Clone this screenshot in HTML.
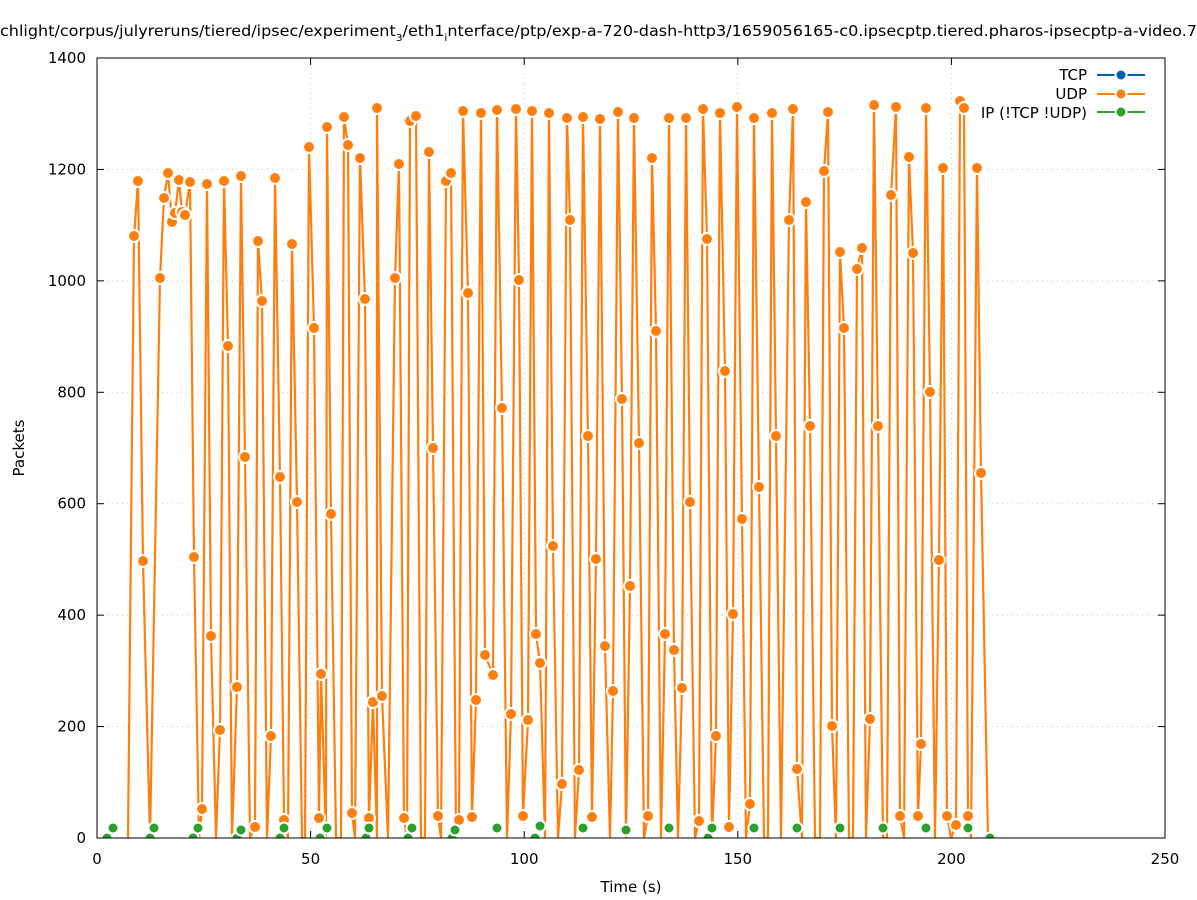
<!DOCTYPE html>
<html><head><meta charset="utf-8"><style>html,body{margin:0;padding:0;background:#fff}svg{display:block}text{font-family:"DejaVu Sans","Liberation Sans",sans-serif}</style></head>
<body>
<svg id="s" width="1197" height="900" viewBox="0 0 1197 900" xmlns="http://www.w3.org/2000/svg">
<defs><clipPath id="cp"><rect x="97" y="58" width="1068" height="780"/></clipPath></defs>
<rect width="1197" height="900" fill="#fff"/>
<g id="grid" stroke="#c8c8c8" stroke-width="1" stroke-dasharray="1,4"></g>
<text x="0" y="36" font-size="15" fill="#000" textLength="1197" lengthAdjust="spacingAndGlyphs">chlight/corpus/julyreruns/tiered/ipsec/experiment<tspan font-size="10" dy="5">3</tspan><tspan dy="-5">/eth1</tspan><tspan font-size="10" dy="5">i</tspan><tspan dy="-5">nterface/ptp/exp-a-720-dash-http3/1659056165-c0.ipsecptp.tiered.pharos-ipsecptp-a-video.7</tspan></text>
<g id="ax" font-size="15" fill="#000"></g>
<g id="data" clip-path="url(#cp)"></g>
<rect x="97" y="58" width="1068" height="780" fill="none" stroke="#000" stroke-width="1"/>
<g font-size="15" text-anchor="end">
<text x="1087" y="80">TCP</text>
<text x="1087" y="99">UDP</text>
<text x="1087" y="118">IP (!TCP  !UDP)</text>
</g>
<line x1="1097" y1="75" x2="1145" y2="75" stroke="#0060ad" stroke-width="2"/>
<line x1="1097" y1="94" x2="1145" y2="94" stroke="#ff7f0e" stroke-width="2"/>
<line x1="1097" y1="112" x2="1145" y2="112" stroke="#2ca02c" stroke-width="2"/>
<circle cx="1121" cy="75" r="5.5" fill="#0060ad" stroke="#fff" stroke-width="2"/>
<circle cx="1121" cy="94" r="5.5" fill="#ff7f0e" stroke="#fff" stroke-width="2"/>
<circle cx="1121" cy="112" r="5.5" fill="#2ca02c" stroke="#fff" stroke-width="2"/>
<text x="631" y="892" font-size="15" text-anchor="middle">Time (s)</text>
<text transform="translate(24,448) rotate(-90)" font-size="15" text-anchor="middle">Packets</text>
</svg>
<script>
var NS="http://www.w3.org/2000/svg",s=document.getElementById('s');
function el(p,t,a,tx){var e=document.createElementNS(NS,t);for(var k in a)e.setAttribute(k,a[k]);if(tx!==undefined)e.textContent=tx;p.appendChild(e);return e;}
var g=document.getElementById('grid'),ax=document.getElementById('ax');
for(var i=0;i<=5;i++){var x=97+i*213.6;if(i>0&&i<5)el(g,'line',{x1:x,y1:58,x2:x,y2:838});
el(ax,'line',{x1:x,y1:838,x2:x,y2:831,stroke:'#000'});el(ax,'line',{x1:x,y1:58,x2:x,y2:65,stroke:'#000'});
el(ax,'text',{x:x,y:864,'text-anchor':'middle'},String(i*50));}
for(var j=0;j<=7;j++){var y=838-j*111.43;if(j>0&&j<7)el(g,'line',{x1:97,y1:y,x2:1165,y2:y});
el(ax,'line',{x1:97,y1:y,x2:104,y2:y,stroke:'#000'});el(ax,'line',{x1:1165,y1:y,x2:1158,y2:y,stroke:'#000'});
el(ax,'text',{x:86,y:y+5,'text-anchor':'end'},String(j*200));}
var P=[128,838,134,236,138,181,143,561,150,838,160,278,164,198,168,173,172,222,175,213,179,180,182,212,185,215,190,182,194,557,199,838,202,809,207,184,211,636,216,838,220,730,224,181,228,346,232,838,237,687,241,176,245,457,250,838,255,827,258,241,262,301,267,838,271,736,275,178,280,477,284,820,288,838,292,244,297,502,302,838,305,838,309,147,314,328,319,818,321,674,326,838,327,127,331,514,336,838,341,838,344,117,348,145,352,813,355,838,360,158,365,299,369,818,373,702,377,838,377,108,382,696,388,838,395,278,399,164,404,818,407,838,410,121,416,116,421,838,425,838,429,152,433,448,438,816,441,838,446,181,451,173,456,838,459,820,463,111,468,293,472,817,476,700,481,113,485,655,493,675,497,110,502,408,507,838,511,714,516,109,519,280,523,816,528,720,532,111,536,634,540,663,545,838,549,113,553,546,558,838,562,784,567,118,570,220,575,838,579,770,583,117,588,436,592,817,596,559,600,119,605,646,610,838,613,691,618,112,622,399,626,838,630,586,634,118,639,443,644,838,648,816,652,158,656,331,661,838,665,634,669,118,674,650,678,838,682,688,686,118,690,502,695,838,699,821,703,109,707,239,712,838,716,736,720,113,725,371,729,827,733,614,737,107,742,519,746,838,750,804,754,118,759,487,764,838,768,838,772,113,776,436,781,838,789,220,793,109,797,769,802,838,806,202,810,426,815,838,820,838,824,171,828,112,832,726,836,838,840,252,844,328,849,838,853,838,857,269,862,248,866,838,870,719,874,105,878,426,883,838,887,838,891,195,896,107,900,816,904,838,909,157,913,253,918,816,921,744,926,108,930,392,935,838,939,560,943,168,947,816,951,838,956,825,960,101,964,108,968,816,971,838,977,168,981,473,988,838];
var d=document.getElementById('data'),pts=[];for(var k=0;k<P.length;k+=2)pts.push(P[k]+','+P[k+1]);
var G=[107,838,113,828,150,838,154,828,193,838,198,828,237,838,241,830,280,838,284,828,320,838,327,828,366,838,369,828,408,838,412,828,452,838,455,830,497,828,535,838,540,826,583,828,626,830,669,828,708,838,712,828,754,828,797,828,840,828,883,828,926,828,968,828,990,838];
el(d,'polyline',{points:pts.join(' '),fill:'none',stroke:'#fff','stroke-width':5});
el(d,'polyline',{points:pts.join(' '),fill:'none',stroke:'#ff7f0e','stroke-width':2.2});
for(var k=0;k<P.length;k+=2)if(P[k+1]<836)el(d,'circle',{cx:P[k],cy:P[k+1],r:6,fill:'#ff7f0e',stroke:'#fff','stroke-width':2});
for(var k=0;k<G.length;k+=2)el(d,'circle',{cx:G[k],cy:G[k+1],r:5.5,fill:'#2ca02c',stroke:'#fff','stroke-width':2});
</script>
</body></html>
